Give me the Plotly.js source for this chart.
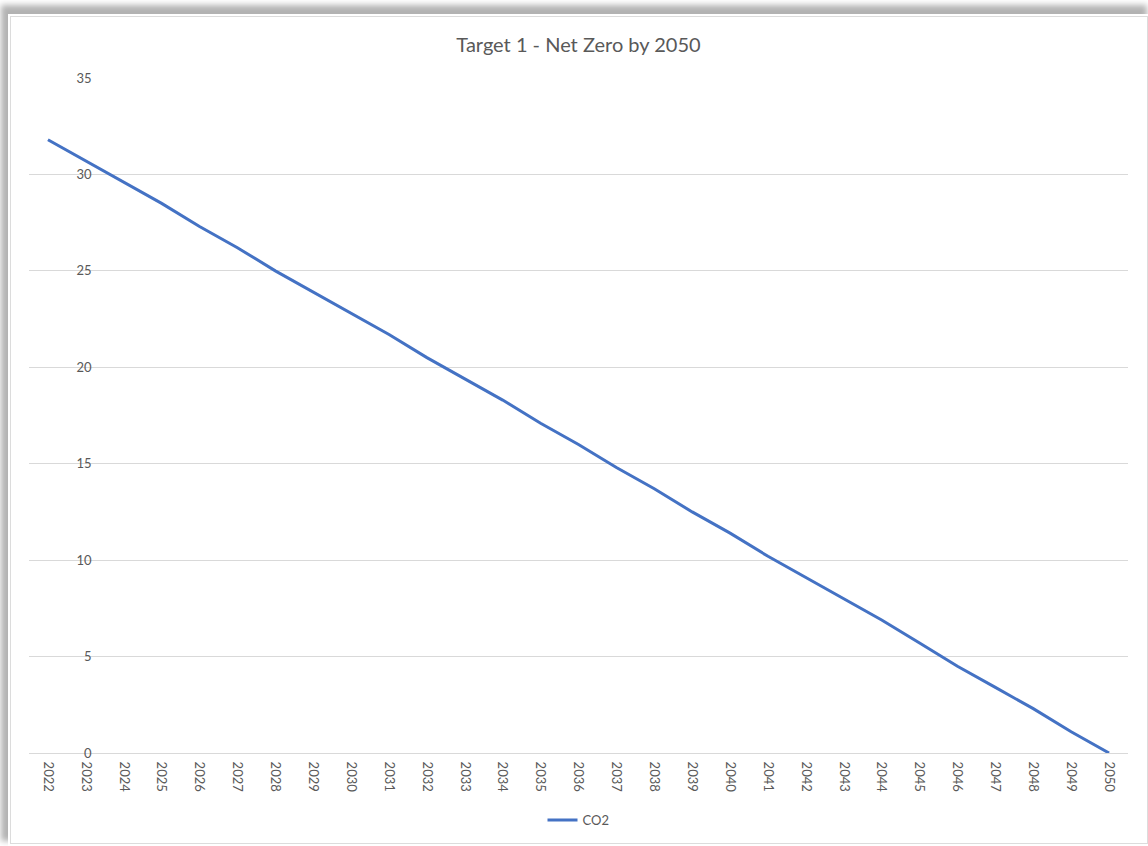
<!DOCTYPE html>
<html>
<head>
<meta charset="utf-8">
<script src="https://cdn.plot.ly/plotly-3.0.1.min.js"></script>
<style>
  html, body { margin: 0; padding: 0; background: #ffffff; width: 1148px; height: 846px; overflow: hidden; }
  #frame {
    position: absolute; left: 10px; top: 16px; width: 1136px; height: 826px;
    border: 1px solid #dcdcdc; background: #ffffff;
    box-shadow: 0 0 0 2px #ffffff, -5px -7px 6px 4px rgba(0,0,0,0.30);
  }
  #chart { position: absolute; left: 0; top: 0; width: 1148px; height: 846px; }
</style>
</head>
<body>
<div id="frame"></div>
<div id="chart"></div>
<script>
const years = ["2022","2023","2024","2025","2026","2027","2028","2029","2030","2031",
               "2032","2033","2034","2035","2036","2037","2038","2039","2040","2041",
               "2042","2043","2044","2045","2046","2047","2048","2049","2050"];
const co2 = [31.8, 30.7, 29.6, 28.5, 27.3, 26.2, 25.0, 23.9, 22.8, 21.7,
             20.5, 19.4, 18.3, 17.1, 16.0, 14.8, 13.7, 12.5, 11.4, 10.2,
             9.1, 8.0, 6.9, 5.7, 4.5, 3.4, 2.3, 1.1, 0];
const yTicks = [0, 5, 10, 15, 20, 25, 30, 35];
const seriesName = "CO2";
const chartTitle = "Target 1 - Net Zero by 2050";

const txt = "#595959";
const fontFam = "Lato, 'Liberation Sans', sans-serif";

const trace = {
  x: years, y: co2, type: "scatter", mode: "lines", name: seriesName,
  line: { color: "#4472C4", width: 3 }
};

const layout = {
  width: 1148, height: 846,
  paper_bgcolor: "rgba(0,0,0,0)", plot_bgcolor: "rgba(0,0,0,0)",
  margin: { l: 29, r: 20, t: 78, b: 92 },
  title: { text: chartTitle, font: { family: fontFam, size: 20, color: txt },
           x: 0.5, xanchor: "center", xref: "paper", y: 1 - 45/846, yref: "container", yanchor: "middle" },
  xaxis: {
    type: "category", range: [-0.5, 28.5], tickangle: 90,
    showgrid: false, showline: false, zeroline: false,
    ticks: "outside", ticklen: 5, tickcolor: "rgba(0,0,0,0)",
    tickfont: { family: fontFam, size: 13, color: txt }, fixedrange: true
  },
  yaxis: {
    range: [0, 35], tickvals: yTicks, anchor: "free", position: 0.057,
    showgrid: true, gridcolor: "#d9d9d9", gridwidth: 1,
    zeroline: true, zerolinecolor: "#d9d9d9", zerolinewidth: 1,
    showline: false, ticks: "",
    tickfont: { family: fontFam, size: 13, color: txt }, fixedrange: true
  },
  showlegend: true,
  legend: { orientation: "h", x: 0.5, xanchor: "center", y: (754-820)/676, yanchor: "middle",
            font: { family: fontFam, size: 13, color: txt }, bgcolor: "rgba(0,0,0,0)" }
};

Plotly.newPlot("chart", [trace], layout, { displayModeBar: false, staticPlot: true });
</script>
</body>
</html>
